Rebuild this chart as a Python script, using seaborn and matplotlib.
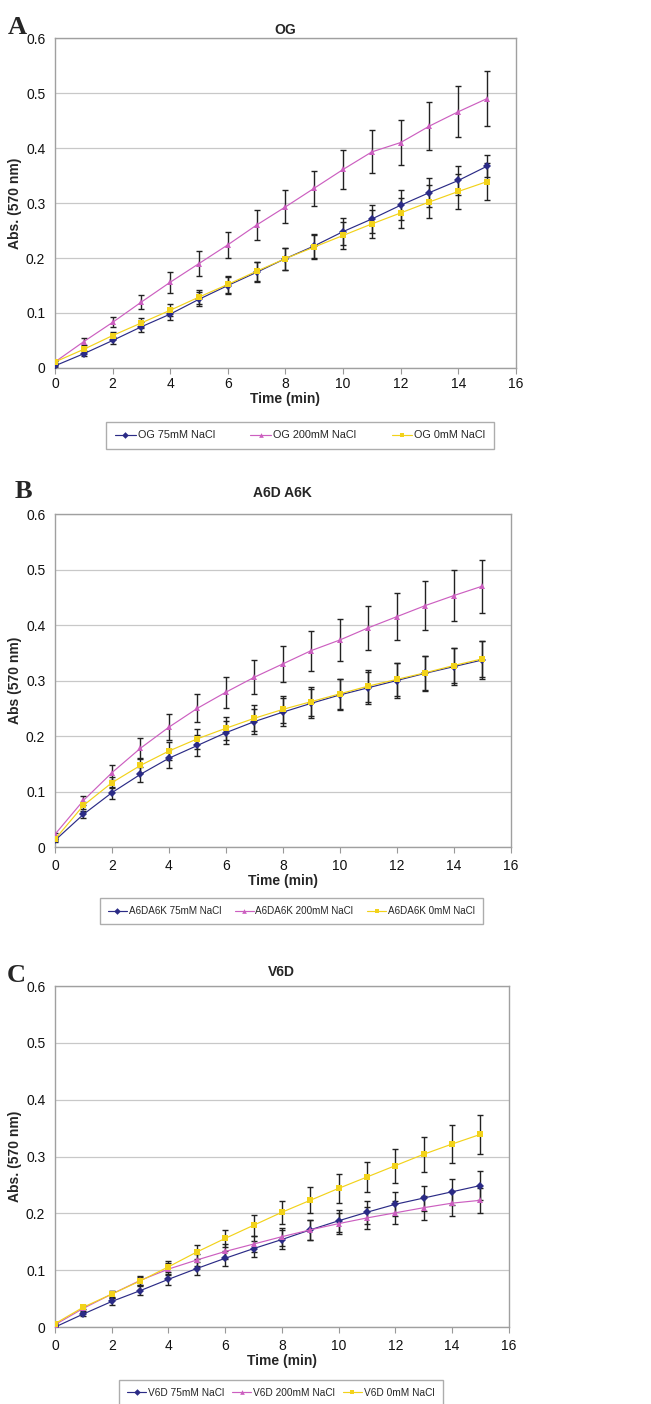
import numpy as np
import pandas as pd
import matplotlib.pyplot as plt
import seaborn as sns

# time points (min)
time = list(range(16))

# Panel A - OG
og_75 = [0.004, 0.026, 0.050, 0.075, 0.098, 0.125, 0.150, 0.174, 0.199, 0.222, 0.248, 0.271, 0.296, 0.319, 0.341, 0.367]
og_200 = [0.011, 0.048, 0.083, 0.120, 0.156, 0.190, 0.224, 0.260, 0.293, 0.327, 0.361, 0.393, 0.410, 0.440, 0.466, 0.490]
og_0 = [0.011, 0.034, 0.059, 0.082, 0.105, 0.129, 0.152, 0.176, 0.199, 0.220, 0.241, 0.262, 0.282, 0.302, 0.321, 0.339]
og_75_err = [0.002, 0.004, 0.007, 0.009, 0.011, 0.013, 0.016, 0.018, 0.020, 0.022, 0.024, 0.026, 0.027, 0.027, 0.026, 0.020]
og_200_err = [0.003, 0.006, 0.009, 0.013, 0.019, 0.022, 0.024, 0.027, 0.030, 0.032, 0.036, 0.039, 0.041, 0.044, 0.046, 0.050]
og_0_err = [0.002, 0.004, 0.007, 0.009, 0.011, 0.013, 0.015, 0.017, 0.020, 0.022, 0.024, 0.026, 0.028, 0.030, 0.032, 0.034]

# Panel B - A6D A6K
ak_75 = [0.012, 0.059, 0.098, 0.131, 0.160, 0.183, 0.206, 0.226, 0.243, 0.259, 0.274, 0.287, 0.300, 0.313, 0.325, 0.337]
ak_200 = [0.023, 0.084, 0.134, 0.178, 0.216, 0.250, 0.279, 0.306, 0.330, 0.354, 0.373, 0.395, 0.415, 0.435, 0.453, 0.470]
ak_0 = [0.014, 0.075, 0.116, 0.147, 0.173, 0.195, 0.214, 0.232, 0.248, 0.262, 0.276, 0.290, 0.302, 0.314, 0.327, 0.339]
ak_75_err = [0.003, 0.006, 0.011, 0.014, 0.017, 0.019, 0.021, 0.023, 0.025, 0.026, 0.028, 0.029, 0.031, 0.032, 0.033, 0.034]
ak_200_err = [0.003, 0.008, 0.013, 0.019, 0.023, 0.025, 0.028, 0.031, 0.033, 0.036, 0.038, 0.040, 0.042, 0.044, 0.046, 0.048]
ak_0_err = [0.003, 0.006, 0.010, 0.013, 0.016, 0.018, 0.021, 0.023, 0.024, 0.026, 0.027, 0.029, 0.030, 0.031, 0.032, 0.033]

# Panel C - V6D
v6_75 = [0.000, 0.023, 0.045, 0.064, 0.084, 0.103, 0.121, 0.138, 0.154, 0.171, 0.187, 0.202, 0.216, 0.227, 0.238, 0.249]
v6_200 = [0.004, 0.033, 0.058, 0.082, 0.102, 0.118, 0.133, 0.146, 0.159, 0.171, 0.182, 0.192, 0.201, 0.210, 0.218, 0.223]
v6_0 = [0.006, 0.035, 0.058, 0.081, 0.106, 0.132, 0.156, 0.179, 0.202, 0.223, 0.244, 0.264, 0.284, 0.304, 0.322, 0.339]
v6_75_err = [0.002, 0.004, 0.006, 0.008, 0.010, 0.011, 0.013, 0.014, 0.016, 0.017, 0.019, 0.020, 0.021, 0.022, 0.023, 0.026]
v6_200_err = [0.002, 0.004, 0.006, 0.008, 0.010, 0.011, 0.013, 0.014, 0.016, 0.017, 0.018, 0.019, 0.020, 0.021, 0.022, 0.022]
v6_0_err = [0.002, 0.004, 0.005, 0.007, 0.010, 0.013, 0.015, 0.018, 0.020, 0.023, 0.025, 0.027, 0.030, 0.031, 0.033, 0.034]

yticks = [0, 0.1, 0.2, 0.3, 0.4, 0.5, 0.6]
ytick_labels = ['0', '0.1', '0.2', '0.3', '0.4', '0.5', '0.6']
xticks = list(range(0, 17, 2))

colors = ['#2b2b86', '#cc5fc0', '#f2d21a']
markers = ['D', '^', 's']

panels = [
    dict(letter='A', title='OG', prefix='OG', ylabel='Abs. (570 nm)',
         vals=[og_75, og_200, og_0], errs=[og_75_err, og_200_err, og_0_err],
         rect=[0.0845, 0.7379, 0.708, 0.235], leg=(0.0998, -0.2576, 0.865, 0.106),
         letter_xy=(17, 27), tpad=3, xpad=2.5, legfs=7.8),
    dict(letter='B', title='A6D A6K', prefix='A6DA6K', ylabel='Abs (570 nm)',
         vals=[ak_75, ak_200, ak_0], errs=[ak_75_err, ak_200_err, ak_0_err],
         rect=[0.0845, 0.3967, 0.700, 0.2372], leg=(0.0877, -0.234, 0.862, 0.084),
         letter_xy=(23, 491), tpad=12, xpad=4.5, legfs=7.1),
    dict(letter='C', title='V6D', prefix='V6D', ylabel='Abs. (570 nm)',
         vals=[v6_75, v6_200, v6_0], errs=[v6_75_err, v6_200_err, v6_0_err],
         rect=[0.0845, 0.0548, 0.697, 0.2429], leg=(0.130, -0.237, 0.736, 0.088),
         letter_xy=(16, 975), tpad=7, xpad=4.5, legfs=7.3),
]
salts = ['75mM NaCl', '200mM NaCl', '0mM NaCl']

sns.set_theme(style="whitegrid")
plt.rcParams['font.family'] = ['Liberation Sans', 'DejaVu Sans']

W, H = 651, 1404
fig = plt.figure(figsize=(W / 100, H / 100), dpi=100)

for p in panels:
    ax = fig.add_axes(p['rect'])
    names = [f"{p['prefix']} {s}" for s in salts]
    df = pd.DataFrame({
        'Time': time * 3,
        'Abs': p['vals'][0] + p['vals'][1] + p['vals'][2],
        'err': p['errs'][0] + p['errs'][1] + p['errs'][2],
        'Series': [n for n in names for _ in time],
    })
    # error bars first so the lines sit on top
    for n in names:
        sub = df[df['Series'] == n]
        ax.errorbar(sub['Time'], sub['Abs'], yerr=sub['err'], fmt='none',
                    ecolor='#222222', elinewidth=1.0, capsize=2.3, capthick=1.0, zorder=2)
    sns.lineplot(data=df, x='Time', y='Abs', hue='Series', style='Series',
                 palette=dict(zip(names, colors)), markers=dict(zip(names, markers)),
                 dashes=False, markersize=4.2, markeredgewidth=0, linewidth=0.85,
                 ax=ax, zorder=3)

    ax.set_xlim(0, 16)
    ax.set_ylim(0, 0.6)
    ax.set_xticks(xticks)
    ax.set_yticks(yticks)
    ax.set_yticklabels(ytick_labels)
    ax.tick_params(axis='both', labelsize=10, colors='#111111')
    ax.tick_params(axis='y', pad=1)
    ax.tick_params(axis='x', bottom=True, length=4, width=0.8, color='#999999', pad=p['xpad'])
    ax.grid(axis='x', visible=False)
    ax.grid(axis='y', color='#c8c8c8', linewidth=0.9)
    for s in ax.spines.values():
        s.set_color('#a0a0a0')
        s.set_linewidth(1.0)
    ax.set_xlabel('Time (min)', fontsize=10, fontweight='bold', labelpad=0.5)
    ax.set_ylabel(p['ylabel'], fontsize=10, fontweight='bold', labelpad=3)
    ax.set_title(p['title'], fontsize=10, fontweight='bold', pad=p['tpad'])
    lx, ly = p['letter_xy']
    fig.text(lx / W, 1 - ly / H, p['letter'], fontsize=19, fontweight='bold',
             family=['Liberation Serif', 'DejaVu Serif'], ha='center', va='center')

    handles, labels = ax.get_legend_handles_labels()
    leg = ax.legend(handles, labels, loc='center', bbox_to_anchor=p['leg'], mode='expand',
                    ncol=3, fontsize=p['legfs'], frameon=True, fancybox=False, handlelength=1.9,
                    handletextpad=0.2, borderpad=0.8, markerscale=0.8)
    leg.get_frame().set_edgecolor('#999999')
    leg.get_frame().set_linewidth(1.0)

fig.savefig('out.png', dpi=100, facecolor='white')
